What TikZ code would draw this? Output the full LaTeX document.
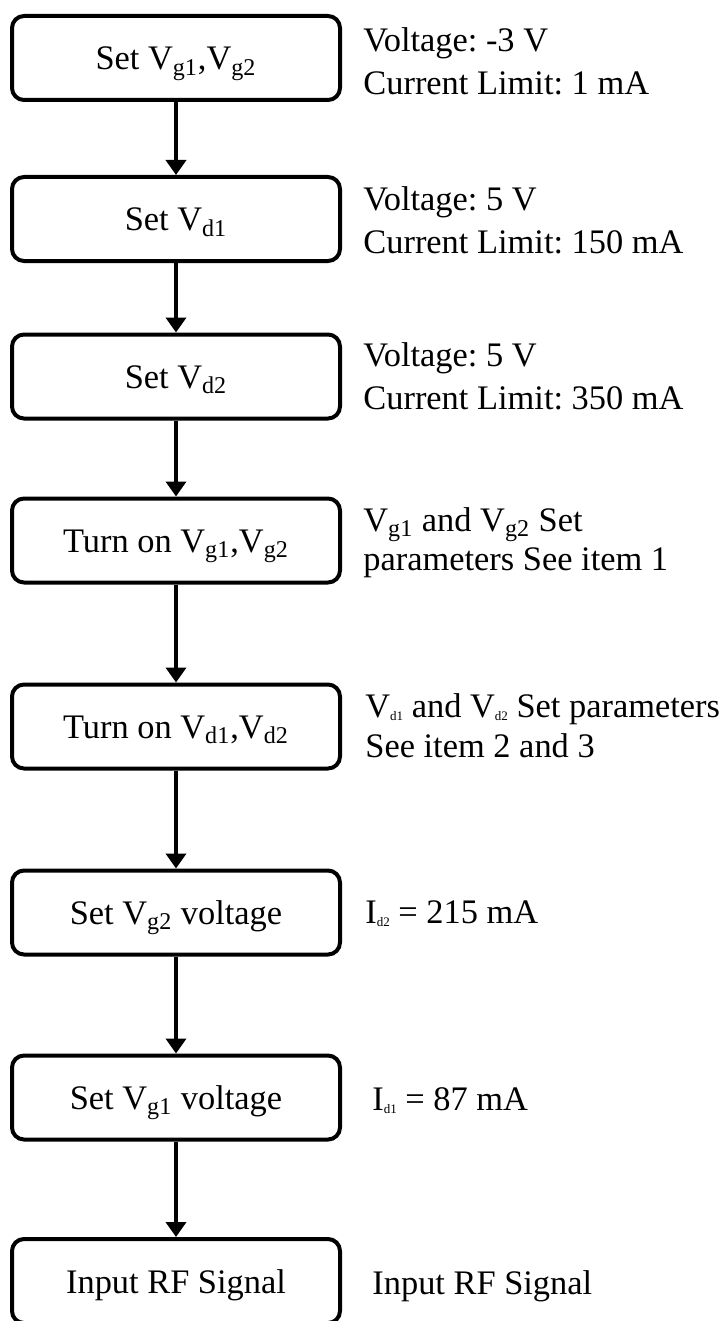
\documentclass[tikz,border=0pt]{standalone}
\usepackage{fontspec}
\setmainfont{Liberation Serif}
\usetikzlibrary{arrows.meta}
\frenchspacing
\newcommand{\tsub}[1]{\raisebox{-1.5pt}{\fontsize{6.5}{6.5}\selectfont #1}}

\begin{document}
\begin{tikzpicture}[x=0.5pt,y=-0.5pt,
  stepbox/.style={draw, line width=2pt, rounded corners=6pt, minimum width=164pt,
    minimum height=42pt, inner sep=0pt, text height=14pt, text depth=2pt,
    font=\fontsize{17.2}{21.5}\selectfont},
  note/.style={anchor=base west, align=left, inner sep=0pt, font=\fontsize{17.2}{21.5}\selectfont},
  flow/.style={line width=2pt, -{Triangle[length=7.5pt,width=10pt]}}]
%%%%%frame
\useasboundingbox (0,0) rectangle (726,1321);
\def\xb{176}
\def\xt{363}

%%%%%steps
\node[stepbox] (s1) at (\xb,58) {Set V\textsubscript{g1},V\textsubscript{g2}};
\node[stepbox] (s2) at (\xb,219) {Set V\textsubscript{d1}};
\node[stepbox] (s3) at (\xb,376.5) {Set V\textsubscript{d2}};
\node[stepbox] (s4) at (\xb,540.5) {Turn on V\textsubscript{g1},V\textsubscript{g2}};
\node[stepbox] (s5) at (\xb,726.5) {Turn on V\textsubscript{d1},V\textsubscript{d2}};
\node[stepbox] (s6) at (\xb,912.5) {Set V\textsubscript{g2} voltage};
\node[stepbox] (s7) at (\xb,1097.5) {Set V\textsubscript{g1} voltage};
\node[stepbox] (s8) at (\xb,1281) {Input RF Signal};

\foreach \a/\b in {s1/s2,s2/s3,s3/s4,s4/s5,s5/s6,s6/s7,s7/s8}
  \draw[flow] (\a.south) -- (\b.north);

%%%%%notes (base = last line)
\node[note] (n1) at (\xt,95) {Voltage: -3 V\\Current Limit: 1 mA};
\node[note] (n2) at (\xt,254) {Voltage: 5 V\\Current Limit: 150 mA};
\node[note] (n3) at (\xt,409) {Voltage: 5 V\\Current Limit: 350 mA};
\node[note] (n4) at (\xt,570) {V\textsubscript{g1} and V\textsubscript{g2} Set\\[-2pt]parameters See item 1};
\node[note] (n5) at (\xt+2,757) {V\tsub{d1} and V\tsub{d2} Set parameters\\[-1.5pt]See item 2 and 3};
\node[note] (n6) at (\xt+2,923) {I\tsub{d2} = 215 mA};
\node[note] (n7) at (\xt+9,1110) {I\tsub{d1} = 87 mA};
\node[note] (n8) at (\xt+9,1294) {Input RF Signal};
\end{tikzpicture}
\end{document}
